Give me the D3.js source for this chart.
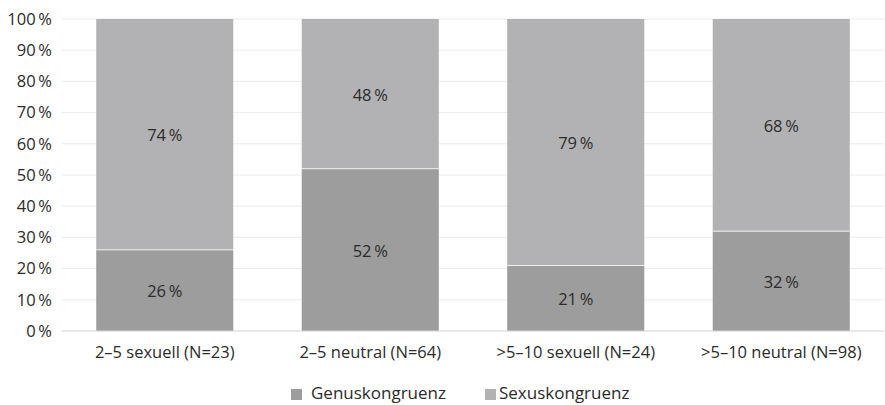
<!DOCTYPE html>
<html><head><meta charset="utf-8">
<script src="https://cdn.jsdelivr.net/npm/d3@7"></script>
<style>
html,body{margin:0;padding:0;background:#fff;}
svg text{font-family:"Open Sans",sans-serif;fill:#2b2b2b;}
</style></head>
<body>
<svg id="chart" width="885" height="405"></svg>
<script>
const categories = ["2–5 sexuell (N=23)", "2–5 neutral (N=64)", ">5–10 sexuell (N=24)", ">5–10 neutral (N=98)"];
const genus = [26, 52, 21, 32];
const sexus = [74, 48, 79, 68];
const seriesNames = ["Genuskongruenz", "Sexuskongruenz"];
const tickValues = [0,10,20,30,40,50,60,70,80,90,100];
const colors = ["#9d9d9e", "#b2b2b4"];

const svg = d3.select("#chart");
const margin = {left: 62, right: 1, top: 19, bottom: 74};
const W = 885, H = 405;
const x = d3.scaleBand().domain(categories).range([margin.left, W - margin.right]).paddingInner(0.333).paddingOuter(0.1665);
const y = d3.scaleLinear().domain([0, 100]).range([H - margin.bottom, margin.top]);

// gridlines
svg.append("g").selectAll("line").data(tickValues.filter(d => d > 0)).join("line")
  .attr("x1", margin.left).attr("x2", W - margin.right)
  .attr("y1", d => y(d)).attr("y2", d => y(d))
  .attr("stroke", "#ececec").attr("stroke-width", 1);

const rows = categories.map((c, i) => ({cat: c, Genuskongruenz: genus[i], Sexuskongruenz: sexus[i]}));
const stack = d3.stack().keys(seriesNames)(rows);

const g = svg.append("g");
stack.forEach((s, si) => {
  g.append("g").selectAll("rect").data(s).join("rect")
    .attr("x", d => x(d.data.cat))
    .attr("width", x.bandwidth())
    .attr("y", d => y(d[1]))
    .attr("height", d => y(d[0]) - y(d[1]))
    .attr("fill", colors[si]);
});
// white separator between segments
g.append("g").selectAll("line").data(stack[0]).join("line")
  .attr("x1", d => x(d.data.cat)).attr("x2", d => x(d.data.cat) + x.bandwidth())
  .attr("y1", d => y(d[1])).attr("y2", d => y(d[1]))
  .attr("stroke", "#fff").attr("stroke-width", 0.8);

stack.forEach((s) => {
  g.append("g").selectAll("text").data(s).join("text")
    .attr("x", d => x(d.data.cat) + x.bandwidth() / 2)
    .attr("y", d => (y(d[0]) + y(d[1])) / 2)
    .attr("dy", "0.42em")
    .attr("text-anchor", "middle")
    .attr("font-size", 16.5)
    .text(d => (d[1] - d[0]) + "\u2009%");
});

// baseline
svg.append("line").attr("x1", margin.left).attr("x2", W - margin.right)
  .attr("y1", y(0)).attr("y2", y(0)).attr("stroke", "#d4d4d4").attr("stroke-width", 1.2);

// y axis labels
const yAxis = d3.axisLeft(y).tickValues(tickValues).tickSize(0).tickPadding(10).tickFormat(d => d + "\u2009%");
const ya = svg.append("g").attr("transform", `translate(${margin.left},0)`).call(yAxis);
ya.select(".domain").remove();
ya.selectAll("text").attr("font-size", 16.5).style("font-family", "'Open Sans',sans-serif").attr("fill", "#2b2b2b");

// x axis labels
const xAxis = d3.axisBottom(x).tickSize(0).tickPadding(15);
const xa = svg.append("g").attr("transform", `translate(0,${y(0)})`).call(xAxis);
xa.select(".domain").remove();
xa.selectAll("text").attr("font-size", 16.5).style("font-family", "'Open Sans',sans-serif").attr("fill", "#2b2b2b");

// legend
const legendX = [291, 485];
const leg = svg.append("g");
seriesNames.forEach((n, i) => {
  leg.append("rect").attr("x", legendX[i]).attr("y", 389).attr("width", 11).attr("height", 11).attr("fill", colors[i]);
  leg.append("text").attr("x", legendX[i] + (i === 0 ? 20 : 14)).attr("y", 399)
    .attr("font-size", 17).text(n);
});
</script>
</body></html>
